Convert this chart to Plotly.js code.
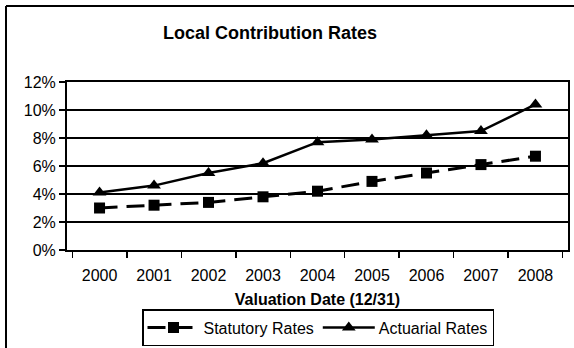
<!DOCTYPE html>
<html>
<head>
<meta charset="utf-8">
<script src="https://cdn.plot.ly/plotly-3.0.1.min.js"></script>
<style>
  html, body { margin: 0; padding: 0; background: #fff; }
  #chart { width: 574px; height: 348px; }
</style>
</head>
<body>
<div id="chart"></div>
<script>
// Valuation years (12/31) and contribution rates in percent
const years = ['2000', '2001', '2002', '2003', '2004', '2005', '2006', '2007', '2008'];
const statutoryRates = [3.0, 3.2, 3.4, 3.8, 4.2, 4.9, 5.5, 6.1, 6.7];
const actuarialRates = [4.1, 4.6, 5.5, 6.2, 7.7, 7.9, 8.2, 8.5, 10.4];
const yTickValues = [0, 2, 4, 6, 8, 10, 12];
const yTickLabels = ['0%', '2%', '4%', '6%', '8%', '10%', '12%'];

const FONT = 'Arial, "Liberation Sans", sans-serif';

// plot area in pixels
const W = 574, H = 348;
const M = { l: 67, r: 6, t: 82, b: 98, autoexpand: false };
const pw = W - M.l - M.r, ph = H - M.t - M.b;
const px = x => (x - M.l) / pw;          // pixel -> paper x
const py = y => (H - M.b - y) / ph;      // pixel -> paper y

const traces = [
  {
    x: years, y: statutoryRates, name: 'Statutory Rates',
    type: 'scatter', mode: 'lines+markers',
    line: { color: '#000', width: 3, dash: '18px,9px' },
    marker: { symbol: 'square', size: 11, color: '#000' }
  },
  {
    x: years, y: actuarialRates, name: 'Actuarial Rates',
    type: 'scatter', mode: 'lines+markers',
    line: { color: '#000', width: 2.5 },
    marker: { symbol: 'triangle-up', size: 12, color: '#000' }
  }
];

const layout = {
  width: W, height: H,
  margin: M,
  paper_bgcolor: '#fff', plot_bgcolor: '#fff',
  font: { family: FONT, color: '#000', size: 15 },
  showlegend: true,
  title: {
    text: '<b>Local Contribution Rates</b>',
    font: { family: FONT, size: 18, color: '#000' },
    x: 270 / W, xref: 'container', xanchor: 'center',
    y: 1 - 33 / H, yref: 'container', yanchor: 'middle'
  },
  xaxis: {
    type: 'category',
    tickson: 'boundaries',
    ticks: 'outside', ticklen: 6, tickwidth: 1.5, tickcolor: '#000',
    showline: true, linecolor: '#000', linewidth: 2, mirror: true,
    showgrid: false, zeroline: false,
    ticklabelstandoff: 10,
    tickfont: { family: FONT, size: 16, color: '#000' },
    title: {
      text: '<b>Valuation Date (12/31)</b>',
      font: { family: FONT, size: 16, color: '#000' },
      standoff: 11
    },
    fixedrange: true
  },
  yaxis: {
    range: [0, 12],
    tickvals: yTickValues, ticktext: yTickLabels,
    ticks: 'outside', ticklen: 6, tickwidth: 1.5, tickcolor: '#000',
    showline: true, linecolor: '#000', linewidth: 2, mirror: true,
    showgrid: true, gridcolor: '#000', gridwidth: 2,
    zeroline: false,
    tickfont: { family: FONT, size: 16, color: '#000' },
    fixedrange: true
  },
  legend: {
    orientation: 'h',
    x: px(142), xanchor: 'left',
    y: py(346), yanchor: 'bottom',
    bordercolor: '#000', borderwidth: 1.5, bgcolor: '#fff',
    font: { family: FONT, size: 16, color: '#000' },
    itemwidth: 50,
    tracegroupgap: 0
  },
  shapes: [
    // chart frame: left and top edges
    { type: 'line', xref: 'paper', yref: 'paper',
      x0: px(6), x1: px(6), y0: py(6), y1: py(H + 2),
      line: { color: '#000', width: 2 } },
    { type: 'line', xref: 'paper', yref: 'paper',
      x0: px(6), x1: px(W + 2), y0: py(6), y1: py(6),
      line: { color: '#000', width: 2 } }
  ]
};

Plotly.newPlot('chart', traces, layout, { displayModeBar: false, staticPlot: true })
  .then(gd => {
    // stretch the legend key lines across the wider item slot, marker centred on them
    gd.querySelectorAll('.legend .traces').forEach(item => {
      const ln = item.querySelector('.legendlines path');
      if (ln) ln.setAttribute('d', 'M4,0h52');
      const pt = item.querySelector('.legendpoints path');
      if (pt) {
        const t = pt.getAttribute('transform') || '';
        pt.setAttribute('transform', t.replace(/translate\(\s*[-\d.]+/, 'translate(30'));
      }
    });
  });
</script>
</body>
</html>
